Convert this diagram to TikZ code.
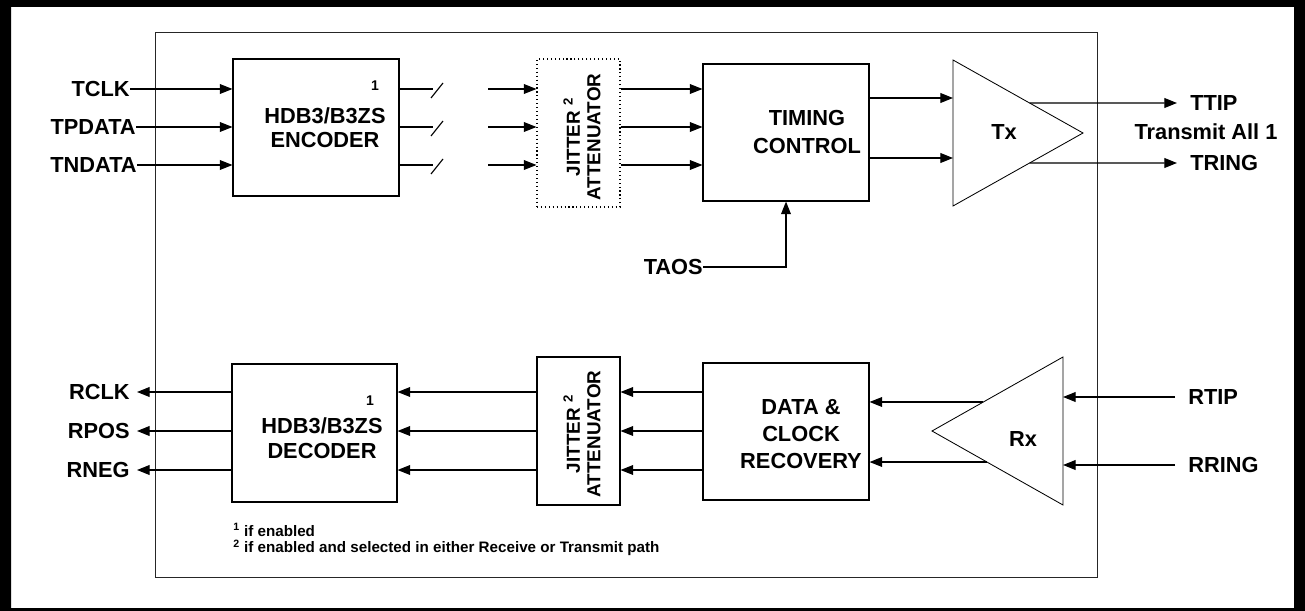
\documentclass[tikz,border=0pt]{standalone}
\usepackage{fontspec}
\setmainfont{Liberation Sans}
\usetikzlibrary{arrows.meta,positioning,calc}
\tikzset{
  block/.style={
    draw=black,
    line width=0.8pt,
    inner sep=0pt
  },
  pin/.style={font=\bfseries\fontsize{15.5}{18}\selectfont, inner sep=0pt},
  rpin/.style={pin, anchor=east, inner xsep=5pt},
  boxtext/.style={font=\bfseries\fontsize{15.5}{17}\selectfont, align=center, inner sep=0pt},
  jittext/.style={font=\bfseries\fontsize{13.4}{14.5}\selectfont, align=center, inner sep=0pt, rotate=90},
  supnum/.style={font=\bfseries\fontsize{10}{11}\selectfont, inner sep=0pt},
  note/.style={font=\bfseries\fontsize{10.8}{12}\selectfont, inner sep=0pt, anchor=west},
  line/.style={-{Triangle[length=9pt,width=7pt]}, line width=0.8pt},
  wire/.style={line width=0.8pt}
}

\begin{document}
\begin{tikzpicture}[x=0.025cm, y=-0.025cm]
        \useasboundingbox (0,0) rectangle (1305,611);
        % page frame
        \fill[even odd rule] (0,0) rectangle (1305,611) (11,7) rectangle (1294,608);
        \draw[line width=0.7pt, black!85] (155,32) rectangle (1097,577);

        % transmit path
        \node[block, minimum width=4.15cm, minimum height=3.425cm] (enc) at (316,127.5) {};
        \node[boxtext] (enct) at (325,127.5) {HDB3/B3ZS\\ENCODER};
        \node[supnum] (encs) at (375,86) {1};
        \node[block, dotted, minimum width=2.075cm, minimum height=3.7cm] (jit1) at (578.5,133) {};
        \node[jittext] (jit1t) at (582,137) {JITTER \textsuperscript{2}\\ATTENUATOR};
        \node[block, minimum width=4.15cm, minimum height=3.425cm] (tmg) at (786,132.5) {};
        \node[boxtext, font=\bfseries\fontsize{15.5}{20}\selectfont] (tmgt) at (807,132) {TIMING\\CONTROL};

        \node[pin, anchor=east] (tclk) at (130,89) {TCLK};
        \node[pin, anchor=east] (tpdata) at (136,127) {TPDATA};
        \node[pin, anchor=east] (tndata) at (137,165) {TNDATA};
        \node[pin, anchor=east] (taos) at (703,267) {TAOS};

        \draw[line] (tclk.east) -- (tclk -| enc.west);
        \draw[line] (tpdata.east) -- (tpdata -| enc.west);
        \draw[line] (tndata.east) -- (tndata -| enc.west);

        % broken links encoder -> jitter attenuator
        \coordinate (b1) at (433,89);
        \coordinate (b2) at (433,127);
        \coordinate (b3) at (433,165);
        \coordinate (g1) at (488,89);
        \coordinate (g2) at (488,127);
        \coordinate (g3) at (488,165);
        \draw[wire] (enc.east |- b1) -- (b1);
        \draw[wire] (enc.east |- b2) -- (b2);
        \draw[wire] (enc.east |- b3) -- (b3);
        \draw[wire] ($(b1)+(-2,9)$) -- ++(12,-15);
        \draw[wire] ($(b2)+(-2,9)$) -- ++(12,-15);
        \draw[wire] ($(b3)+(-2,9)$) -- ++(12,-15);
        \draw[line] (g1) -- (g1 -| jit1.west);
        \draw[line] (g2) -- (g2 -| jit1.west);
        \draw[line] (g3) -- (g3 -| jit1.west);
        \draw[line] (jit1.east |- g1) -- (tmg.west |- g1);
        \draw[line] (jit1.east |- g2) -- (tmg.west |- g2);
        \draw[line] (jit1.east |- g3) -- (tmg.west |- g3);
        \draw[line] (taos.east) -| (tmg.south);

        % Tx driver
        \draw[line width=0.6pt] (953,60) coordinate (txa) -- (1083,133) coordinate (txtip)
          -- (953,206) coordinate (txb) -- cycle;
        \node[boxtext] (txt) at (1004,132) {Tx};
        \coordinate (txi1) at (953,98);
        \coordinate (txi2) at (953,158);
        \coordinate (txo1) at ($(txa)!0.589!(txtip)$);
        \coordinate (txo2) at ($(txb)!0.589!(txtip)$);
        \draw[line] (tmg.east |- txi1) -- (txi1);
        \draw[line] (tmg.east |- txi2) -- (txi2);

        \node[pin, anchor=west] (ttip) at (1190,103) {TTIP};
        \node[pin] (tall) at (1206,132) {Transmit All 1};
        \node[pin, anchor=west] (tring) at (1190,163) {TRING};
        \draw[line] (txo1) -- ($(ttip.west)+(-13,0)$);
        \draw[line] (txo2) -- ($(tring.west)+(-13,0)$);

        % receive path
        \node[block, minimum width=4.125cm, minimum height=3.45cm] (dec) at (314.5,433) {};
        \node[boxtext, font=\bfseries\fontsize{15.5}{17.5}\selectfont] (dect) at (322,438.5) {HDB3/B3ZS\\DECODER};
        \node[supnum] (decs) at (370,401) {1};
        \node[block, minimum width=2.075cm, minimum height=3.7cm] (jit2) at (578.5,431) {};
        \node[jittext] (jit2t) at (582,434) {JITTER \textsuperscript{2}\\ATTENUATOR};
        \node[block, minimum width=4.15cm, minimum height=3.425cm] (dcr) at (786,431.5) {};
        \node[boxtext, font=\bfseries\fontsize{15.5}{19.5}\selectfont] (dcrt) at (801,434) {DATA \&\\CLOCK\\RECOVERY};

        \node[rpin] (rclk) at (137,392) {RCLK};
        \node[rpin] (rpos) at (137,431) {RPOS};
        \node[rpin] (rneg) at (137,470) {RNEG};

        \draw[line] (dec.west |- rclk) -- (rclk.east);
        \draw[line] (dec.west |- rpos) -- (rpos.east);
        \draw[line] (dec.west |- rneg) -- (rneg.east);
        \draw[line] (jit2.west |- rclk) -- (dec.east |- rclk);
        \draw[line] (jit2.west |- rpos) -- (dec.east |- rpos);
        \draw[line] (jit2.west |- rneg) -- (dec.east |- rneg);
        \draw[line] (dcr.west |- rclk) -- (jit2.east |- rclk);
        \draw[line] (dcr.west |- rpos) -- (jit2.east |- rpos);
        \draw[line] (dcr.west |- rneg) -- (jit2.east |- rneg);

        % Rx receiver
        \draw[line width=0.6pt] (1063,357) coordinate (rxa) -- (932,431) coordinate (rxtip)
          -- (1063,505) coordinate (rxb) -- cycle;
        \node[boxtext] (rxt) at (1023,439) {Rx};
        \coordinate (rxo1) at ($(rxtip)!0.392!(rxa)$);
        \coordinate (rxo2) at ($(rxtip)!0.419!(rxb)$);
        \draw[line] (rxo1) -- (dcr.east |- rxo1);
        \draw[line] (rxo2) -- (dcr.east |- rxo2);

        \node[pin, anchor=west] (rtip) at (1188,397) {RTIP};
        \node[pin, anchor=west] (rring) at (1188,465) {RRING};
        \draw[line] ($(rtip.west)+(-13,0)$) -- (rtip -| rxa);
        \draw[line] ($(rring.west)+(-13,0)$) -- (rring -| rxa);

        % footnotes
        \node[note] (fn1) at (233,530) {\textsuperscript{1} if enabled};
        \node[note] (fn2) at (233,548) {\textsuperscript{2} if enabled and selected in either Receive or Transmit path};
      \end{tikzpicture}
\end{document}
